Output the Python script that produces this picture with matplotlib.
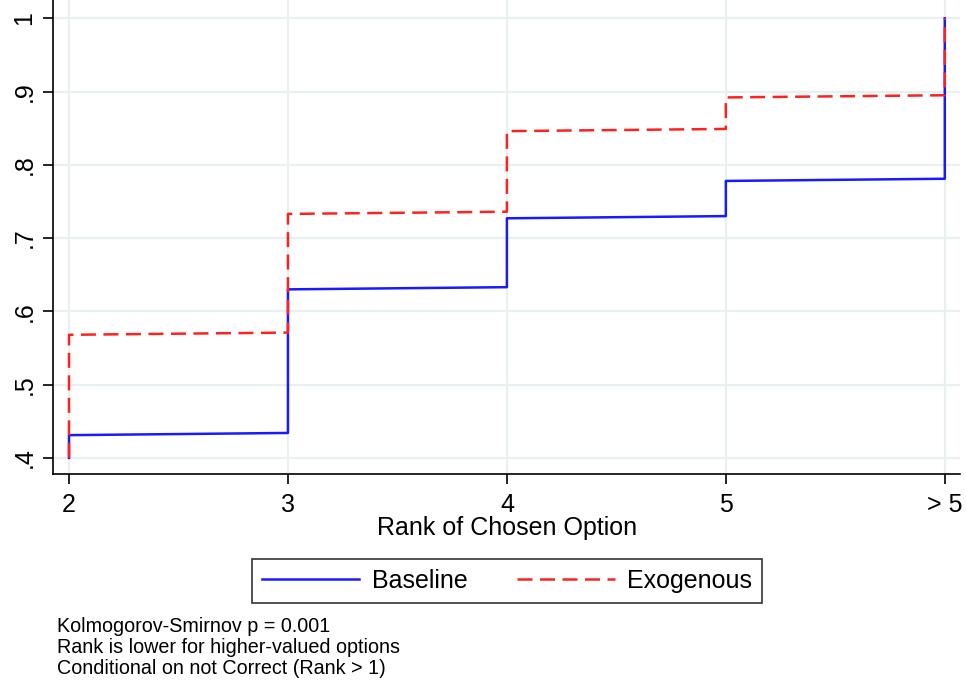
import matplotlib
matplotlib.use("Agg")
import matplotlib.pyplot as plt

plt.rcParams['font.family'] = ['Liberation Sans', 'DejaVu Sans']

# Data (step CDF vertices)
x_ticks = [2, 3, 4, 5, 6]
x_labels = ["2", "3", "4", "5", "> 5"]
y_ticks = [0.4, 0.5, 0.6, 0.7, 0.8, 0.9, 1.0]
y_labels = [".4", ".5", ".6", ".7", ".8", ".9", "1"]

base_x = [2, 2, 3, 3, 4, 4, 5, 5, 6, 6]
base_y = [0.400, 0.431, 0.434, 0.630, 0.633, 0.727, 0.730, 0.778, 0.781, 1.000]
exo_x = [2, 2, 3, 3, 4, 4, 5, 5, 6, 6]
exo_y = [0.400, 0.568, 0.571, 0.733, 0.736, 0.846, 0.849, 0.892, 0.895, 1.000]

notes = ["Kolmogorov-Smirnov p = 0.001",
         "Rank is lower for higher-valued options",
         "Conditional on not Correct (Rank > 1)"]

fig = plt.figure(figsize=(9.66, 6.81), dpi=100)
ax = fig.add_axes([0.0549, 0.304, 0.939, 0.696])

grid_c = "#e8f0f1"
for yt in y_ticks:
    ax.axhline(yt, color=grid_c, lw=1.6, zorder=0)
for xt in x_ticks:
    ax.axvline(xt, color=grid_c, lw=1.6, zorder=0)

ax.plot(base_x, base_y, color="#1a1aff", lw=1.8, label="Baseline", zorder=2)
ax.plot(exo_x, exo_y, color="#ff2020", lw=1.8, ls=(0, (6, 3)), label="Exogenous", zorder=3)

ax.set_xlim(1.927, 6.07)
ax.set_ylim(0.378, 1.025)
ax.set_xticks(x_ticks)
ax.set_xticklabels(x_labels, fontsize=18)
ax.set_yticks(y_ticks)
ax.set_yticklabels(y_labels, fontsize=18, rotation=90, va="center")
ax.tick_params(axis="both", direction="out", length=7, width=1.2, color="black")
ax.tick_params(axis="x", pad=7)
ax.tick_params(axis="y", pad=5)
for s in ["top", "right"]:
    ax.spines[s].set_visible(False)
for s in ["left", "bottom"]:
    ax.spines[s].set_linewidth(1.2)
ax.set_xlabel("Rank of Chosen Option", fontsize=18, labelpad=-1)

leg = fig.legend(loc="center", bbox_to_anchor=(507/966, 1 - 581/681), ncol=2,
                 fontsize=18, frameon=True, fancybox=False, edgecolor="black",
                 handlelength=3.9, columnspacing=2.0, borderpad=0.4, handletextpad=0.5,
                 borderaxespad=0)
leg.get_frame().set_linewidth(1.2)

for i, t in enumerate(notes):
    fig.text(57/966, 1 - (627 + 20.5*i)/681, t, fontsize=14.2, va="center", ha="left")

fig.savefig("out.png", dpi=100, facecolor="white")
